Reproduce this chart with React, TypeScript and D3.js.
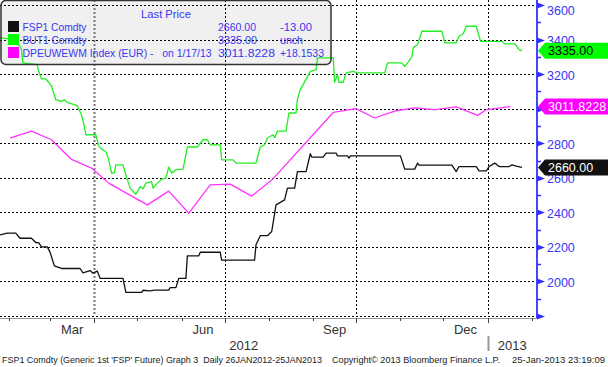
import { useRef, useEffect } from "react";
import * as d3 from "d3";

type Pt = [string, number];

const W = 608;
const H = 367;

// FSP1 Comdty (black)
const fsp1: Pt[] = [
  ["2012-01-26", 2270], ["2012-01-31", 2280], ["2012-02-06", 2280], ["2012-02-09", 2250],
  ["2012-02-17", 2250], ["2012-02-20", 2225], ["2012-02-22", 2225], ["2012-02-24", 2200],
  ["2012-02-28", 2200], ["2012-03-01", 2170], ["2012-03-04", 2090], ["2012-03-09", 2075],
  ["2012-03-22", 2075], ["2012-03-24", 2050], ["2012-03-29", 2063], ["2012-03-31", 2048],
  ["2012-04-03", 2060], ["2012-04-05", 2018], ["2012-04-21", 2018], ["2012-04-23", 1937],
  ["2012-05-04", 1937], ["2012-05-05", 1949], ["2012-05-10", 1945], ["2012-05-13", 1950],
  ["2012-05-23", 1950], ["2012-05-24", 1964], ["2012-05-28", 1964], ["2012-05-30", 2018],
  ["2012-06-04", 2018], ["2012-06-05", 2148], ["2012-06-13", 2148], ["2012-06-14", 2169],
  ["2012-06-28", 2169], ["2012-06-29", 2123], ["2012-07-22", 2123], ["2012-07-23", 2212],
  ["2012-07-26", 2265], ["2012-07-31", 2265], ["2012-08-03", 2289], ["2012-08-06", 2443],
  ["2012-08-12", 2472], ["2012-08-14", 2540], ["2012-08-19", 2540], ["2012-08-21", 2636],
  ["2012-08-27", 2636], ["2012-08-30", 2739], ["2012-08-31", 2720], ["2012-09-08", 2720],
  ["2012-09-10", 2743], ["2012-09-17", 2743], ["2012-09-18", 2727], ["2012-09-25", 2727],
  ["2012-09-26", 2714], ["2012-09-27", 2727], ["2012-11-01", 2727], ["2012-11-04", 2650],
  ["2012-11-11", 2650], ["2012-11-13", 2685], ["2012-11-14", 2673], ["2012-12-07", 2673],
  ["2012-12-10", 2636], ["2012-12-12", 2665], ["2012-12-24", 2665], ["2012-12-26", 2640],
  ["2012-12-31", 2640], ["2013-01-02", 2665], ["2013-01-06", 2685], ["2013-01-09", 2665],
  ["2013-01-16", 2665], ["2013-01-18", 2675], ["2013-01-21", 2668], ["2013-01-25", 2660],
];

// BUT1 Comdty (green)
const but1: Pt[] = [
  ["2012-01-26", 3410], ["2012-01-31", 3405], ["2012-02-05", 3400], ["2012-02-09", 3360],
  ["2012-02-10", 3342], ["2012-02-11", 3265], ["2012-02-21", 3255], ["2012-02-22", 3216],
  ["2012-02-24", 3172], ["2012-02-27", 3172], ["2012-02-29", 3153], ["2012-03-02", 3130],
  ["2012-03-05", 3052], ["2012-03-09", 3042], ["2012-03-11", 3052], ["2012-03-13", 3037],
  ["2012-03-18", 3023], ["2012-03-20", 3017], ["2012-03-23", 2965], ["2012-03-25", 2897],
  ["2012-03-26", 2849], ["2012-04-02", 2849], ["2012-04-04", 2785], ["2012-04-06", 2766],
  ["2012-04-09", 2752], ["2012-04-11", 2704], ["2012-04-13", 2627], ["2012-04-15", 2629],
  ["2012-04-16", 2675], ["2012-04-21", 2675], ["2012-04-23", 2617], ["2012-04-26", 2540],
  ["2012-04-30", 2505], ["2012-05-03", 2549], ["2012-05-05", 2536], ["2012-05-07", 2569],
  ["2012-05-11", 2578], ["2012-05-12", 2540], ["2012-05-15", 2569], ["2012-05-18", 2592],
  ["2012-05-21", 2598], ["2012-05-23", 2662], ["2012-05-25", 2627], ["2012-05-28", 2646],
  ["2012-06-02", 2650], ["2012-06-05", 2778], ["2012-06-12", 2778], ["2012-06-16", 2820],
  ["2012-06-19", 2820], ["2012-06-21", 2791], ["2012-06-28", 2791], ["2012-06-29", 2704],
  ["2012-07-07", 2704], ["2012-07-09", 2685], ["2012-07-23", 2685], ["2012-07-26", 2778],
  ["2012-07-29", 2791], ["2012-07-31", 2830], ["2012-08-04", 2849], ["2012-08-05", 2832],
  ["2012-08-07", 2870], ["2012-08-13", 2870], ["2012-08-15", 2975], ["2012-08-20", 2975],
  ["2012-08-21", 3055], ["2012-08-23", 3110], ["2012-08-30", 3216], ["2012-09-03", 3226],
  ["2012-09-04", 3294], ["2012-09-15", 3294], ["2012-09-16", 3153], ["2012-09-18", 3197],
  ["2012-09-19", 3153], ["2012-09-22", 3153], ["2012-09-24", 3207], ["2012-09-29", 3216],
  ["2012-10-02", 3207], ["2012-10-21", 3207], ["2012-10-23", 3265], ["2012-11-02", 3265],
  ["2012-11-04", 3245], ["2012-11-06", 3265], ["2012-11-09", 3300], ["2012-11-10", 3352],
  ["2012-11-13", 3371], ["2012-11-16", 3448], ["2012-11-30", 3448], ["2012-12-02", 3381],
  ["2012-12-10", 3381], ["2012-12-12", 3419], ["2012-12-15", 3435], ["2012-12-17", 3477],
  ["2012-12-24", 3477], ["2012-12-27", 3390], ["2013-01-11", 3390], ["2013-01-13", 3375],
  ["2013-01-20", 3375], ["2013-01-23", 3342], ["2013-01-25", 3335],
];

// DPEUWEWM Index (magenta, roughly fortnightly)
const dpeuwewm: Pt[] = [
  ["2012-02-02", 2830], ["2012-02-17", 2870], ["2012-03-02", 2820], ["2012-03-16", 2706],
  ["2012-03-30", 2656], ["2012-04-11", 2569], ["2012-05-08", 2443], ["2012-05-23", 2523],
  ["2012-06-06", 2395], ["2012-06-21", 2559], ["2012-07-05", 2563], ["2012-07-20", 2494],
  ["2012-08-04", 2595], ["2012-09-15", 2978], ["2012-10-01", 3000], ["2012-10-14", 2946],
  ["2012-10-29", 2988], ["2012-11-11", 3004], ["2012-11-25", 2994], ["2012-12-10", 3010],
  ["2012-12-25", 2961], ["2012-12-31", 2994], ["2013-01-17", 3011.8228],
];

const gridValues = [1800, 2000, 2200, 2400, 2600, 2800, 3000, 3200, 3400, 3600];
const axisLabels = [2000, 2200, 2400, 2600, 2800, 3000, 3200, 3400, 3600];
const minorValues = [1900, 2100, 2300, 2500, 2700, 2900, 3100, 3300, 3500];
const quarterStarts = ["2012-04-01", "2012-07-01", "2012-10-01", "2013-01-01"];
const monthNames = ["Mar", "Jun", "Sep", "Dec"];
const monthStarts = ["2012-03-01", "2012-06-01", "2012-09-01", "2012-12-01"];

const legendNames = ["FSP1 Comdty", "BUT1 Comdty", "DPEUWEWM Index (EUR) -\u00a0\u00a0\u00a0on 1/17/13"];
const legendLast = ["2660.00", "3335.00", "3011.8228"];
const legendChange = ["-13.00", "unch", "+18.1533"];
const seriesColors = ["#111111", "#22ee22", "#ff33ff"];
const tagFills = ["#111111", "#00ff00", "#ff00ff"];
const tagText = ["#ffffff", "#000000", "#ffffff"];

export default function App() {
  const svgRef = useRef<SVGSVGElement>(null);

  useEffect(() => {
    if (!svgRef.current) return;
    const svg = d3.select(svgRef.current);
    svg.selectAll("*").remove();

    const parse = d3.timeParse("%Y-%m-%d");
    const x = d3
      .scaleTime()
      .domain([parse("2012-01-26")!, parse("2013-02-01")!])
      .range([0, 532]);
    const y = d3.scaleLinear().domain([1800, 3600]).range([316, 5]);
    const axisX = 537;
    const font = "'Liberation Sans', Arial, sans-serif";
    const blue = "#3838f0";
    const snap = (v: number) => Math.round(v) + 0.5;

    svg.append("rect").attr("width", W).attr("height", H).attr("fill", "#fff");

    // legend backdrop sits under the grid, Bloomberg style
    svg.append("rect")
      .attr("x", 1).attr("y", 0.5).attr("width", 330).attr("height", 64).attr("rx", 5)
      .attr("fill", "#f0f0f0");

    // horizontal grid
    svg.append("g").selectAll("line").data(gridValues).join("line")
      .attr("x1", 0).attr("x2", axisX)
      .attr("y1", (d) => snap(y(d))).attr("y2", (d) => snap(y(d)))
      .attr("stroke", "#000").attr("stroke-dasharray", "2,2");

    // vertical grid at quarter starts
    svg.append("g").selectAll("line").data(quarterStarts).join("line")
      .attr("x1", (d) => snap(x(parse(d)!))).attr("x2", (d) => snap(x(parse(d)!)))
      .attr("y1", 0).attr("y2", 316)
      .attr("stroke", (_, i) => (i === 0 ? "#777" : "#000"))
      .attr("stroke-width", (_, i) => (i === 0 ? 2 : 1))
      .attr("stroke-dasharray", "2,2");

    // bottom axis
    svg.append("line")
      .attr("x1", 0).attr("x2", axisX).attr("y1", 318.5).attr("y2", 318.5)
      .attr("stroke", "#999");
    const months = d3.timeMonth.range(parse("2012-02-01")!, parse("2013-02-02")!);
    svg.append("g").selectAll("line").data(months).join("line")
      .attr("x1", (d) => snap(x(d))).attr("x2", (d) => snap(x(d)))
      .attr("y1", 318).attr("y2", (d) => (d.getMonth() % 3 === 0 ? 323 : 321))
      .attr("stroke", "#444");

    svg.append("g").selectAll("text").data(monthNames).join("text")
      .attr("x", (_, i) => {
        const s = parse(monthStarts[i])!;
        return (x(s) + x(d3.timeMonth.offset(s, 1))) / 2;
      })
      .attr("y", 334)
      .attr("text-anchor", "middle")
      .attr("font-family", font).attr("font-size", 13).attr("fill", "#333")
      .text((d) => d);

    const jan13 = x(parse("2013-01-01")!);
    svg.append("text")
      .attr("x", (x(parse("2012-01-26")!) + jan13) / 2).attr("y", 349.5)
      .attr("text-anchor", "middle")
      .attr("font-family", font).attr("font-size", 13).attr("fill", "#333")
      .text("2012");
    svg.append("text")
      .attr("x", (jan13 + axisX) / 2).attr("y", 349.5)
      .attr("text-anchor", "middle")
      .attr("font-family", font).attr("font-size", 13).attr("fill", "#333")
      .text("2013");
    svg.append("line")
      .attr("x1", snap(jan13)).attr("x2", snap(jan13)).attr("y1", 336).attr("y2", 351)
      .attr("stroke", "#999").attr("stroke-width", 2);

    // series
    const line = d3
      .line<Pt>()
      .x((d) => x(parse(d[0])!))
      .y((d) => y(d[1]));
    const series = [fsp1, but1, dpeuwewm];
    [2, 0, 1].forEach((i) => {
      svg.append("path")
        .attr("d", line(series[i]))
        .attr("fill", "none")
        .attr("stroke", seriesColors[i])
        .attr("stroke-width", 1.3)
        .attr("stroke-linejoin", "round");
    });

    // legend border and text
    svg.append("rect")
      .attr("x", 1).attr("y", 0.5).attr("width", 330).attr("height", 64).attr("rx", 5)
      .attr("fill", "none").attr("stroke", "#333").attr("stroke-width", 1.5);
    const lg = svg.append("g").attr("font-family", font).attr("font-size", 11).attr("fill", blue);
    lg.append("text").attr("x", 166).attr("y", 18).attr("text-anchor", "middle")
      .attr("textLength", 50).attr("lengthAdjust", "spacingAndGlyphs").text("Last Price");
    const nameW = [64, 64, 189];
    const lastW = [38, 39, 57];
    const chgW = [32, 23, 44];
    legendNames.forEach((name, i) => {
      const by = 30.5 + i * 13;
      lg.append("rect").attr("x", 8).attr("y", by - 9.5).attr("width", 11).attr("height", 11)
        .attr("fill", tagFills[i]);
      lg.append("text").attr("x", 22.5).attr("y", by)
        .attr("textLength", nameW[i]).attr("lengthAdjust", "spacingAndGlyphs").text(name);
      lg.append("text").attr("x", 218).attr("y", by)
        .attr("textLength", lastW[i]).attr("lengthAdjust", "spacingAndGlyphs").text(legendLast[i]);
      lg.append("text").attr("x", 280).attr("y", by)
        .attr("textLength", chgW[i]).attr("lengthAdjust", "spacingAndGlyphs").text(legendChange[i]);
    });

    // right axis
    svg.append("line")
      .attr("x1", axisX).attr("x2", axisX).attr("y1", 0).attr("y2", 318)
      .attr("stroke", "#4545ff").attr("stroke-width", 2);
    svg.append("g").selectAll("path").data(gridValues).join("path")
      .attr("d", (d) => {
        const ty = snap(y(d));
        return `M${axisX},${ty - 3}L${axisX + 8},${ty}L${axisX},${ty + 3}Z`;
      })
      .attr("fill", "#3030ff");
    svg.append("g").selectAll("line").data(minorValues).join("line")
      .attr("x1", axisX).attr("x2", axisX + 4)
      .attr("y1", (d) => snap(y(d))).attr("y2", (d) => snap(y(d)))
      .attr("stroke", "#3030ff").attr("stroke-width", 1.5);

    // labels fully covered by a last-value tag are not drawn
    const lastVals = series.map((s) => s[s.length - 1][1]);
    const shown = axisLabels.filter((v) => lastVals.every((lv) => Math.abs(y(lv) - y(v)) > 4));
    svg.append("g").selectAll("text").data(shown).join("text")
      .attr("x", 547)
      .attr("y", (d) => Math.max(y(d) + 5.5, 15))
      .attr("font-family", font).attr("font-size", 12.5).attr("fill", blue)
      .text((d) => d);

    // last-value tags
    lastVals.forEach((v, i) => {
      const cy = y(v);
      svg.append("path")
        .attr("d", `M538,${cy}L545,${cy - 8}L608,${cy - 8}L608,${cy + 8}L545,${cy + 8}Z`)
        .attr("fill", tagFills[i]);
      svg.append("text")
        .attr("x", 548).attr("y", cy + 4.5)
        .attr("font-family", font).attr("font-size", 12.5).attr("fill", tagText[i])
        .text(legendLast[i]);
    });

    // footer
    const ft = svg.append("g").attr("font-family", font).attr("font-size", 9).attr("fill", "#222");
    const footer: [string, number, number][] = [
      ["FSP1 Comdty (Generic 1st 'FSP' Future) Graph 3\u00a0\u00a0Daily 26JAN2012-25JAN2013", 2, 320],
      ["Copyright\u00a9 2013 Bloomberg Finance L.P.", 332, 168],
      ["25-Jan-2013 23:19:09", 512, 93],
    ];
    footer.forEach(([t, fx, fw]) => {
      ft.append("text").attr("x", fx).attr("y", 363)
        .attr("textLength", fw).attr("lengthAdjust", "spacingAndGlyphs").text(t);
    });
  }, []);

  return (
    <svg
      ref={svgRef}
      width={W}
      height={H}
      style={{ position: "absolute", left: 0, top: 0, display: "block" }}
    />
  );
}
